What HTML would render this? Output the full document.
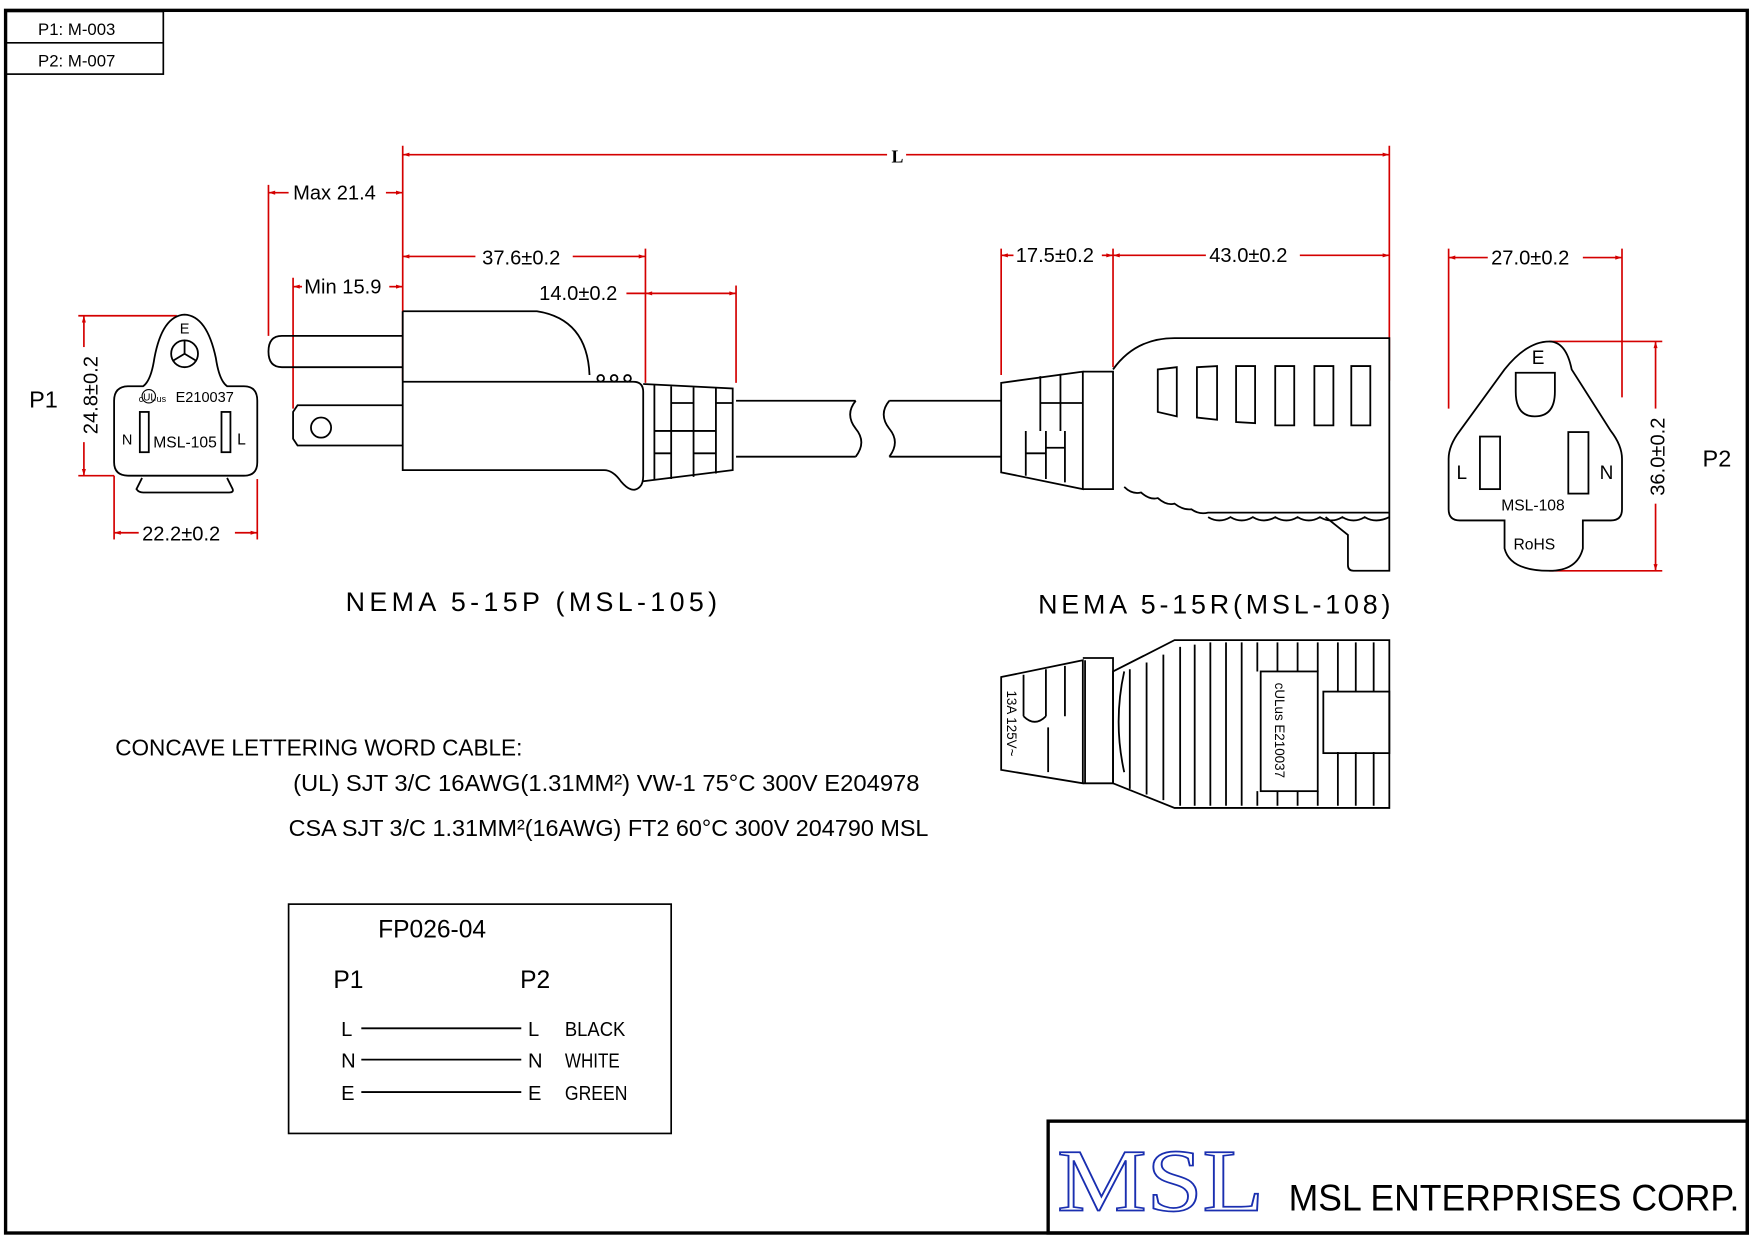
<!DOCTYPE html>
<html><head><meta charset="utf-8"><style>html,body{margin:0;padding:0;background:#fff}svg{display:block}</style></head>
<body>
<svg width="1754" height="1240" viewBox="0 0 1568 1108" xmlns="http://www.w3.org/2000/svg" font-family="Liberation Sans, sans-serif">
<defs>
<marker id="a" viewBox="0 0 10 10" refX="10" refY="5" markerWidth="12" markerHeight="6" orient="auto-start-reverse" markerUnits="userSpaceOnUse"><path d="M0,2 L10,5 L0,8z" fill="#d40000"/></marker>
</defs>
<rect width="1568" height="1108" fill="#fff"/>
<rect x="5" y="9" width="1557" height="1093" fill="none" stroke="#000" stroke-width="3"/>
<g stroke="#000" stroke-width="1.5" fill="none">
<rect x="5" y="10" width="141" height="56"/><line x1="5" y1="38" x2="146" y2="38"/>
<rect x="937" y="1002" width="625" height="100" stroke-width="3"/>
<rect x="258" y="808" width="342" height="205"/>
</g>
<g font-size="15" fill="#000"><text x="34" y="31">P1: M-003</text><text x="34" y="59">P2: M-007</text></g>

<g stroke="#d40000" stroke-width="1.5" fill="none">
<line x1="360" y1="130" x2="360" y2="340"/><line x1="1242" y1="130" x2="1242" y2="340"/>
<line x1="360" y1="138" x2="793" y2="138" marker-start="url(#a)"/><line x1="810" y1="138" x2="1242" y2="138" marker-end="url(#a)"/>
<line x1="240" y1="165" x2="240" y2="300"/>
<line x1="240" y1="172" x2="258" y2="172" marker-start="url(#a)"/><line x1="345" y1="172" x2="360" y2="172" marker-end="url(#a)"/>
<line x1="262" y1="248" x2="262" y2="365"/>
<line x1="262" y1="256" x2="270" y2="256" marker-start="url(#a)"/><line x1="348" y1="256" x2="360" y2="256" marker-end="url(#a)"/>
<line x1="577" y1="222" x2="577" y2="342"/><line x1="658" y1="255" x2="658" y2="342"/>
<line x1="360" y1="229" x2="425" y2="229" marker-start="url(#a)"/><line x1="512" y1="229" x2="577" y2="229" marker-end="url(#a)"/>
<line x1="560" y1="262" x2="577" y2="262"/><line x1="577" y1="262" x2="658" y2="262" marker-start="url(#a)" marker-end="url(#a)"/>
<line x1="895" y1="222" x2="895" y2="335"/><line x1="995" y1="222" x2="995" y2="328"/>
<line x1="895" y1="228" x2="906" y2="228" marker-start="url(#a)"/><line x1="985" y1="228" x2="995" y2="228" marker-end="url(#a)"/>
<line x1="995" y1="228" x2="1078" y2="228" marker-start="url(#a)"/><line x1="1162" y1="228" x2="1242" y2="228" marker-end="url(#a)"/>
<line x1="1295" y1="222" x2="1295" y2="365"/><line x1="1450" y1="222" x2="1450" y2="355"/>
<line x1="1295" y1="230" x2="1330" y2="230" marker-start="url(#a)"/><line x1="1415" y1="230" x2="1450" y2="230" marker-end="url(#a)"/>
<line x1="1385" y1="305" x2="1486" y2="305"/><line x1="1385" y1="510" x2="1486" y2="510"/>
<line x1="1480" y1="305" x2="1480" y2="365" marker-start="url(#a)"/><line x1="1480" y1="450" x2="1480" y2="510" marker-end="url(#a)"/>
<line x1="70" y1="282" x2="158" y2="282"/><line x1="70" y1="425" x2="102" y2="425"/>
<line x1="75" y1="282" x2="75" y2="310" marker-start="url(#a)"/><line x1="75" y1="395" x2="75" y2="425" marker-end="url(#a)"/>
<line x1="102" y1="425" x2="102" y2="482"/><line x1="230" y1="428" x2="230" y2="482"/>
<line x1="102" y1="476" x2="124" y2="476" marker-start="url(#a)"/><line x1="210" y1="476" x2="230" y2="476" marker-end="url(#a)"/>
</g>
<g font-size="18" fill="#000">
<text x="797" y="145" font-weight="bold" font-family="Liberation Serif, serif" font-size="16">L</text>
<text x="262" y="178">Max 21.4</text>
<text x="272" y="262">Min 15.9</text>
<text x="431" y="236">37.6±0.2</text>
<text x="482" y="268">14.0±0.2</text>
<text x="908" y="234">17.5±0.2</text>
<text x="1081" y="234">43.0±0.2</text>
<text x="1333" y="236">27.0±0.2</text>
<text x="127" y="483">22.2±0.2</text>
<text transform="translate(87,353) rotate(-90)" text-anchor="middle">24.8±0.2</text>
<text transform="translate(1488,408) rotate(-90)" text-anchor="middle">36.0±0.2</text>
<text x="26" y="364" font-size="21">P1</text>
<text x="1522" y="417" font-size="21">P2</text>
</g>

<g stroke="#000" stroke-width="1.6" fill="none">
<path d="M102,358 Q102,345 115,345 L128,345 Q135,340 138,320 Q145,282 165,281 Q185,282 193,320 Q196,340 203,345 L218,345 Q230,345 230,358 L230,413 Q230,425 218,425 L115,425 Q102,425 102,413 Z"/>
<path d="M127,427 L122,437 Q124,440 128,440 L205,440 Q209,440 208,437 L203,427"/>
<circle cx="165" cy="316" r="12"/><path d="M165,316 L165,304 M165,316 L155,322 M165,316 L175,322"/>
<rect x="125" y="368" width="8" height="36"/><rect x="198" y="368" width="8" height="36"/>
<path d="M360,300 L252,300 Q240,300 240,314 Q240,328 252,328 L360,328"/>
<path d="M360,362 L266,362 L262,368 L262,392 L266,398 L360,398"/>
<circle cx="287" cy="382" r="9"/>
<path d="M360,278 L480,278 Q525,285 527,335"/>
<path d="M360,278 L360,420 L540,420 Q548,420 555,430 Q565,442 572,435 Q575,432 575,425 L575,350 Q575,341 566,341 L360,341"/>
<circle cx="537" cy="338" r="3"/><circle cx="549" cy="338" r="3"/><circle cx="561" cy="338" r="3"/>
<path d="M575,343 L655,347 L655,420 L575,430"/>
<path d="M600,345 L600,428 M620,346 L620,426 M640,347 L640,423 M585,344 L585,429"/>
<path d="M600,360 L620,360 M600,385 L620,385 M585,385 L600,385 M620,385 L640,385 M640,360 L655,360 M585,405 L600,405 M620,405 L640,405"/>
<path d="M658,358 L765,358 M658,408 L765,408 M765,358 Q755,370 765,383 Q775,395 765,408 M795,358 Q785,370 795,383 Q805,395 795,408 M795,358 L895,358 M795,408 L895,408"/>
<path d="M895,342 L968,332 L968,437 L895,422 Z M968,332 L995,332 L995,437 L968,437"/>
<path d="M930,336 L930,385 M948,334 L948,385 M917,385 L917,425 M935,385 L935,428 M952,385 L952,431 M930,360 L948,360 M917,405 L935,405 M935,400 L952,400 M948,360 L968,360"/>
<path d="M995,330 Q1015,302 1050,302 L1242,302 L1242,510 L1210,510 Q1205,510 1205,505 L1205,478 L1185,462"/>
<path d="M1005,435 Q1012,442 1020,440 Q1028,447 1035,445 Q1043,452 1050,450 Q1058,456 1065,455 Q1072,460 1080,458 L1242,458 M1080,462 Q1090,468 1100,462 Q1110,468 1120,462 Q1130,468 1140,462 Q1150,468 1160,462 Q1170,468 1180,462 Q1190,468 1200,462 Q1210,468 1220,462 Q1230,468 1242,462"/>
<path d="M1035,330 L1052,328 L1052,372 L1035,368Z M1070,328 L1088,327 L1088,375 L1070,373Z M1105,327 L1122,327 L1122,378 L1105,377Z M1140,327 L1157,327 L1157,380 L1140,380Z M1175,327 L1192,327 L1192,380 L1175,380Z M1208,327 L1225,327 L1225,380 L1208,380Z"/>
<path d="M895,605 L968,590 L968,700 L895,688 Z M968,588 L995,588 L995,700 L968,700"/>
<path d="M915,603 L915,640 M935,598 L935,640 M952,595 L952,640 M937,650 L937,690 M970,590 L970,700 M935,640 Q925,650 915,640"/>
<path d="M995,600 L1050,572 L1242,572 L1242,722 L1050,722 L995,700 Z"/>
<path d="M1005,600 Q995,645 1005,690"/>
<path d="M1010,598 L1010,705 M1025,592 L1025,710 M1040,585 L1040,715 M1055,578 L1055,720 M1068,576 L1068,720 M1082,574 L1082,720 M1096,574 L1096,720 M1110,574 L1110,720 M1124,574 L1124,600 M1124,707 L1124,720 M1142,574 L1142,600 M1142,707 L1142,720 M1160,574 L1160,600 M1160,707 L1160,720 M1178,574 L1178,600 M1178,707 L1178,720 M1196,574 L1196,618 M1196,672 L1196,720 M1212,574 L1212,618 M1212,672 L1212,720 M1228,574 L1228,618 M1228,672 L1228,720"/>
<rect x="1127" y="600" width="51" height="107"/><rect x="1183" y="618" width="59" height="55"/>
<path d="M1385,305 Q1365,305 1345,330 L1305,385 Q1295,398 1295,410 L1295,455 Q1295,465 1305,465 L1345,465 L1345,490 Q1350,510 1385,510 Q1410,510 1415,490 L1415,465 L1440,465 Q1450,465 1450,455 L1450,410 Q1450,398 1440,385 L1405,330 Q1400,305 1385,305 Z"/>
<path d="M1355,333 L1390,333 L1390,350 Q1390,372 1372,372 Q1355,372 1355,350 Z"/>
<rect x="1323" y="390" width="18" height="47"/><rect x="1402" y="386" width="18" height="55"/>
<line x1="323" y1="919" x2="466" y2="919"/><line x1="323" y1="947" x2="466" y2="947"/><line x1="323" y1="976" x2="466" y2="976"/>
</g>
<g fill="#000">
<text x="165" y="298" font-size="13" text-anchor="middle">E</text>
<text x="124" y="359" font-size="8">c</text><circle cx="133" cy="354" r="6" fill="none" stroke="#000"/><text x="128" y="358" font-size="9">UL</text><text x="140" y="359" font-size="8">us</text>
<text x="157" y="359" font-size="13">E210037</text>
<text x="109" y="397" font-size="13">N</text><text x="137" y="400" font-size="14">MSL-105</text><text x="212" y="397" font-size="14">L</text>
<text x="1375" y="325" font-size="17" text-anchor="middle">E</text>
<text x="1302" y="428" font-size="17">L</text><text x="1430" y="428" font-size="17">N</text>
<text x="1342" y="456" font-size="14">MSL-108</text>
<text x="1353" y="491" font-size="14">RoHS</text>
<text transform="translate(900,617) rotate(90)" font-size="12">13A 125V~</text>
<text transform="translate(1140,610) rotate(90)" font-size="12">cULus E210037</text>
<text x="309" y="546" font-size="24" textLength="332" lengthAdjust="spacing">NEMA 5-15P (MSL-105)</text>
<text x="928" y="548" font-size="24" textLength="315" lengthAdjust="spacing">NEMA 5-15R(MSL-108)</text>
<text x="103" y="675" font-size="21" textLength="364" lengthAdjust="spacingAndGlyphs">CONCAVE LETTERING WORD CABLE:</text>
<text x="262" y="707" font-size="21" textLength="560" lengthAdjust="spacingAndGlyphs">(UL) SJT 3/C 16AWG(1.31MM²) VW-1 75°C 300V E204978</text>
<text x="258" y="747" font-size="21" textLength="572" lengthAdjust="spacingAndGlyphs">CSA SJT 3/C 1.31MM²(16AWG) FT2 60°C 300V 204790 MSL</text>
<text x="338" y="838" font-size="22">FP026-04</text>
<text x="298" y="883" font-size="22">P1</text><text x="465" y="883" font-size="22">P2</text>
<g font-size="18"><text x="305" y="926">L</text><text x="305" y="954">N</text><text x="305" y="983">E</text>
<text x="472" y="926">L</text><text x="472" y="954">N</text><text x="472" y="983">E</text>
<text x="505" y="926" textLength="54" lengthAdjust="spacingAndGlyphs">BLACK</text><text x="505" y="954" textLength="49" lengthAdjust="spacingAndGlyphs">WHITE</text><text x="505" y="983" textLength="56" lengthAdjust="spacingAndGlyphs">GREEN</text></g>
<text x="945" y="1082" font-family="Liberation Serif, serif" font-size="80" fill="#fff" stroke="#1a2fb0" stroke-width="1.5" textLength="185" lengthAdjust="spacingAndGlyphs">MSL</text>
<text x="1152" y="1082" font-size="33" textLength="403" lengthAdjust="spacingAndGlyphs">MSL ENTERPRISES CORP.</text>
</g>
</svg>
</body></html>
